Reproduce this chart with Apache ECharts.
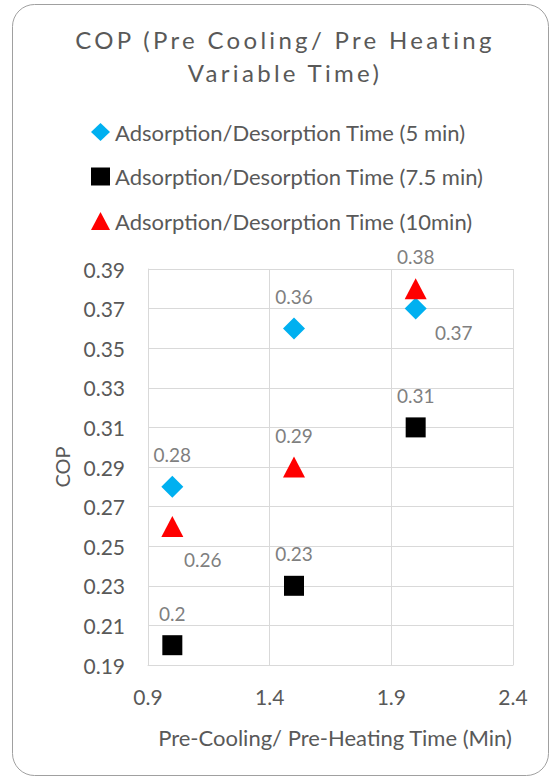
<!DOCTYPE html>
<html>
<head>
<meta charset="utf-8">
<script src="https://cdn.jsdelivr.net/npm/echarts@6/dist/echarts.min.js"></script>
<style>
  html, body { margin: 0; padding: 0; background: #fff; }
  #chart { width: 550px; height: 778px; }
  #chart text[fill="#595958"] { letter-spacing: 3.3px; }
</style>
</head>
<body>
<div id="chart"></div>
<script>
// ---- data ----
const seriesNames = [
  'Adsorption/Desorption Time (5 min)',
  'Adsorption/Desorption Time (7.5 min)',
  'Adsorption/Desorption Time (10min)'
];
const preTime = [1, 1.5, 2];
const cop5 = [0.28, 0.36, 0.37];
const cop75 = [0.20, 0.23, 0.31];
const cop10 = [0.26, 0.29, 0.38];
const xTicks = { min: 0.9, max: 2.4, step: 0.5 };
const yTicks = { min: 0.19, max: 0.39, step: 0.02 };

// ---- label placement (style, not data) ----
const ABOVE = [0, -32];
const labelOffsets = [
  [ABOVE, ABOVE, [38, 23.5]],
  [ABOVE, ABOVE, ABOVE],
  [[30.5, 33.5], ABOVE, ABOVE]
];
const symbols = ['diamond', 'rect', 'triangle'];
const symbolSizes = [[22, 22], [20, 20], [22, 21]];
const colors = ['#00B0F0', '#000000', '#FF0000'];
const FONT = 'Lato';

function build(values, idx) {
  return {
    name: seriesNames[idx],
    type: 'scatter',
    symbol: symbols[idx],
    symbolSize: symbolSizes[idx],
    itemStyle: { color: colors[idx], opacity: 1 },
    data: preTime.map((x, i) => ({
      value: [x, values[i]],
      label: { offset: labelOffsets[idx][i] }
    })),
    label: {
      show: true,
      position: 'inside',
      color: '#7f7f7f',
      fontFamily: FONT,
      fontSize: 19,
      formatter: p => String(p.value[1])
    },
    emphasis: { disabled: true }
  };
}

const chart = echarts.init(document.getElementById('chart'), null, { renderer: 'svg' });
chart.setOption({
  animation: false,
  backgroundColor: '#ffffff',
  color: colors,
  graphic: [{
    type: 'rect',
    shape: { x: 12.5, y: 4.5, width: 536, height: 771, r: 22 },
    style: { fill: 'none', stroke: '#a0a0a0', lineWidth: 1 },
    silent: true
  }],
  title: {
    text: 'COP (Pre Cooling/ Pre Heating\nVariable Time)',
    left: 285,
    top: 23,
    padding: 0,
    textAlign: 'center',
    textStyle: {
      fontFamily: FONT,
      fontSize: 24,
      fontWeight: 'normal',
      color: '#595958',
      lineHeight: 33
    }
  },
  legend: {
    orient: 'vertical',
    left: 91,
    top: 119,
    padding: 0,
    itemWidth: 19,
    itemHeight: 18,
    itemGap: 18.5,
    data: seriesNames,
    itemStyle: { opacity: 1 },
    textStyle: { fontFamily: FONT, fontSize: 22, color: '#595959', lineHeight: 26 },
    selectedMode: false
  },
  grid: { left: 148, right: 37, top: 269, bottom: 113, containLabel: false },
  xAxis: {
    type: 'value',
    min: xTicks.min,
    max: xTicks.max,
    interval: xTicks.step,
    name: 'Pre-Cooling/ Pre-Heating Time (Min)',
    nameLocation: 'middle',
    nameGap: 61,
    nameTextStyle: { fontFamily: FONT, fontSize: 22, color: '#595959', padding: [0, 0, 0, 9] },
    axisLine: { show: true, lineStyle: { color: '#d9d9d9', width: 1 } },
    axisTick: { show: false },
    axisLabel: { fontFamily: FONT, fontSize: 21, color: '#595959', margin: 21, formatter: v => String(+v.toFixed(1)) },
    splitLine: { show: true, lineStyle: { color: '#d9d9d9', width: 1 } }
  },
  yAxis: {
    type: 'value',
    min: yTicks.min,
    max: yTicks.max,
    interval: yTicks.step,
    name: 'COP',
    nameLocation: 'middle',
    nameGap: 76,
    nameTextStyle: { fontFamily: FONT, fontSize: 20, color: '#595959' },
    axisLine: { show: true, lineStyle: { color: '#d9d9d9', width: 1 } },
    axisTick: { show: false },
    axisLabel: { fontFamily: FONT, fontSize: 21, color: '#595959', margin: 23, formatter: v => (+v).toFixed(2) },
    splitLine: { show: true, lineStyle: { color: '#d9d9d9', width: 1 } }
  },
  series: [build(cop5, 0), build(cop75, 1), build(cop10, 2)]
});
</script>
</body>
</html>
